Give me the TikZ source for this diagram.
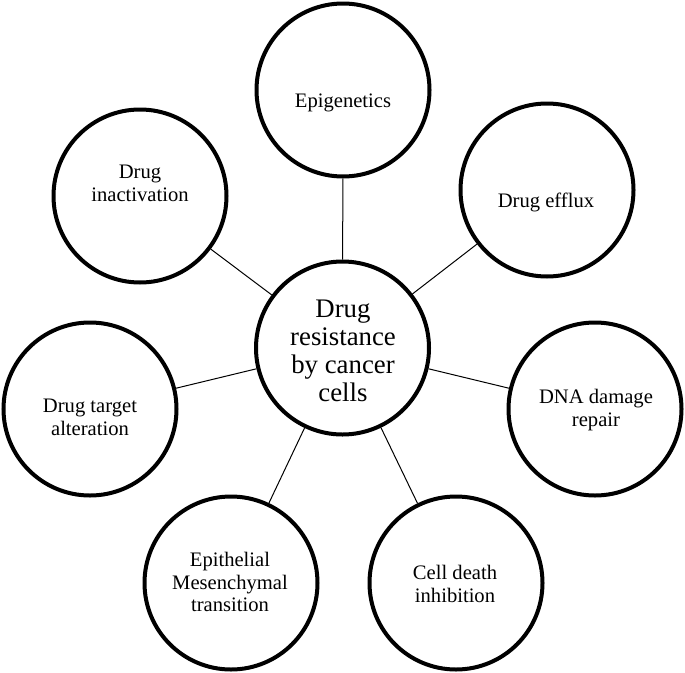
\documentclass[tikz,border=0pt]{standalone}
\usepackage{fontspec}
\setmainfont{Liberation Serif}
\begin{document}
\begin{tikzpicture}[x=1pt,y=-1pt,
  ring/.style={circle,draw=black,line width=4pt,minimum size=173pt,inner sep=0pt},
  lbl/.style={align=center,inner sep=0pt,font=\fontsize{20.6}{22.8}\selectfont},
  clbl/.style={align=center,inner sep=0pt,font=\fontsize{26.8}{28}\selectfont},
  link/.style={draw=black,line width=1pt}]
\useasboundingbox (0,0) rectangle (685,672);
\node[ring] (c) at (342.5,348) {};
\node[ring] (epi) at (343,90) {};
\node[ring] (inact) at (140,196) {};
\node[ring] (efflux) at (547,190) {};
\node[ring] (target) at (90,409) {};
\node[ring] (dna) at (595,409) {};
\node[ring] (emt) at (231,583) {};
\node[ring] (death) at (456,583) {};
\foreach \o in {epi,inact,efflux,target,dna,emt,death}
  \draw[link] (c) -- (\o);
\node[clbl] (tc) at (343,351) {Drug\\resistance\\by cancer\\cells};
\node[lbl] (tepi) at (343,103) {Epigenetics};
\node[lbl] (tinact) at (140,183) {Drug\\inactivation};
\node[lbl] (tefflux) at (546,202) {Drug efflux};
\node[lbl] (ttarget) at (90,417) {Drug target\\alteration};
\node[lbl] (tdna) at (596,410) {DNA damage\\repair};
\node[lbl] (temt) at (230,582) {Epithelial\\Mesenchymal\\transition};
\node[lbl] (tdeath) at (455,584) {Cell death\\inhibition};
\end{tikzpicture}
\end{document}
